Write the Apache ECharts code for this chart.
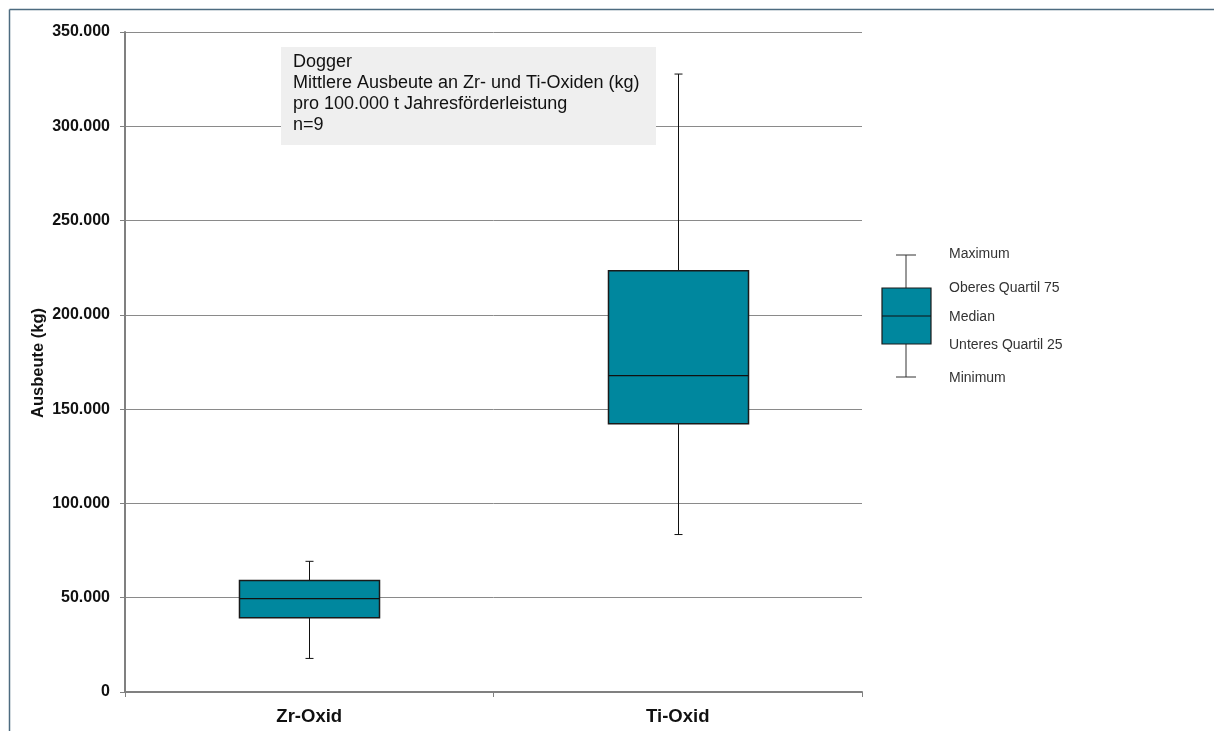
<!DOCTYPE html>
<html>
<head>
<meta charset="utf-8">
<script src="https://cdn.jsdelivr.net/npm/echarts@6/dist/echarts.min.js"></script>
<style>
html,body{margin:0;padding:0;background:#fff;}
#chart{width:1214px;height:731px;}
</style>
</head>
<body>
<div id="chart"></div>
<script>
var categories = ['Zr-Oxid', 'Ti-Oxid'];
var minimum = [17800, 83500];
var quartil25 = [39400, 142300];
var median = [49500, 167800];
var quartil75 = [59100, 223400];
var maximum = [69300, 327700];
var yTicks = [0, 50000, 100000, 150000, 200000, 250000, 300000, 350000];
var annotationLines = ['Dogger', 'Mittlere Ausbeute an Zr- und Ti-Oxiden (kg)', 'pro 100.000 t Jahresförderleistung', 'n=9'];
var legendLabels = ['Maximum', 'Oberes Quartil 75', 'Median', 'Unteres Quartil 25', 'Minimum'];

var boxData = categories.map(function (c, i) {
  return [i, minimum[i], quartil25[i], median[i], quartil75[i], maximum[i]];
});

function fmt(v) {
  return String(v).replace(/\B(?=(\d{3})+(?!\d))/g, '.');
}

var FONT = '"Liberation Sans", Arial, Helvetica, sans-serif';
var BOXCOLOR = '#00879e';

function renderBox(params, api) {
  var idx = api.value(0);
  var pMin = api.coord([idx, api.value(1)]);
  var pQ1 = api.coord([idx, api.value(2)]);
  var pMed = api.coord([idx, api.value(3)]);
  var pQ3 = api.coord([idx, api.value(4)]);
  var pMax = api.coord([idx, api.value(5)]);
  var bw = api.size([1, 0])[0] * 0.38;
  var cx = Math.round(pMed[0]) + 0.5;
  var cap = 4;
  var lineStyle = { stroke: '#111', lineWidth: 1 };
  return {
    type: 'group',
    children: [
      { type: 'line', shape: { x1: cx, y1: pMax[1], x2: cx, y2: pQ3[1] }, style: lineStyle },
      { type: 'line', shape: { x1: cx - cap, y1: pMax[1], x2: cx + cap, y2: pMax[1] }, style: lineStyle },
      { type: 'line', shape: { x1: cx, y1: pQ1[1], x2: cx, y2: pMin[1] }, style: lineStyle },
      { type: 'line', shape: { x1: cx - cap, y1: pMin[1], x2: cx + cap, y2: pMin[1] }, style: lineStyle },
      { type: 'rect', shape: { x: cx - bw / 2, y: pQ3[1], width: bw, height: pQ1[1] - pQ3[1] },
        style: { fill: BOXCOLOR, stroke: '#1a1a1a', lineWidth: 1.5 } },
      { type: 'line', shape: { x1: cx - bw / 2, y1: pMed[1], x2: cx + bw / 2, y2: pMed[1] },
        style: { stroke: '#111', lineWidth: 1.2 } }
    ]
  };
}

// legend glyph (pixel layout only, not data)
var lgX = 906, lgCap = 10;
var lgY = [255, 287, 316, 344, 377];
var legendGraphics = [
  { type: 'line', shape: { x1: lgX, y1: lgY[0], x2: lgX, y2: lgY[4] }, style: { stroke: '#333', lineWidth: 1 } },
  { type: 'line', shape: { x1: lgX - lgCap, y1: lgY[0], x2: lgX + lgCap, y2: lgY[0] }, style: { stroke: '#333', lineWidth: 1 } },
  { type: 'line', shape: { x1: lgX - lgCap, y1: lgY[4], x2: lgX + lgCap, y2: lgY[4] }, style: { stroke: '#333', lineWidth: 1 } },
  { type: 'rect', shape: { x: 882, y: 288, width: 49, height: 56 }, style: { fill: BOXCOLOR, stroke: '#1a1a1a', lineWidth: 1.2 } },
  { type: 'line', shape: { x1: 882, y1: 316, x2: 931, y2: 316 }, style: { stroke: '#111', lineWidth: 1.2 } }
];
var legendTextY = [254, 288, 317, 345, 378];
legendLabels.forEach(function (t, i) {
  legendGraphics.push({
    type: 'text', x: 949, y: legendTextY[i],
    style: { text: t, fill: '#333', fontSize: 14, fontFamily: FONT, verticalAlign: 'middle' }
  });
});

var chart = echarts.init(document.getElementById('chart'), null, { renderer: 'canvas' });
chart.setOption({
  animation: false,
  backgroundColor: '#ffffff',
  grid: { left: 125, right: 352, top: 32, bottom: 39, containLabel: false },
  xAxis: {
    type: 'category',
    data: categories,
    boundaryGap: true,
    axisLine: { lineStyle: { color: '#808080', width: 2 } },
    axisTick: { show: true, length: 5, lineStyle: { color: '#808080', width: 1 } },
    axisLabel: { color: '#111', fontWeight: 'bold', fontSize: 18.5, fontFamily: FONT, margin: 15 },
    splitLine: { show: false }
  },
  yAxis: {
    type: 'value',
    min: 0, max: 350000, interval: 50000,
    axisLine: { show: true, lineStyle: { color: '#808080', width: 2 } },
    axisTick: { show: true, length: 5, lineStyle: { color: '#808080', width: 1 } },
    axisLabel: { color: '#111', fontWeight: 'bold', fontSize: 16, fontFamily: FONT, margin: 15,
      formatter: function (v) { return fmt(v); } },
    splitLine: { show: true, lineStyle: { color: '#8a8a8a', width: 1 } }
  },
  series: [{
    type: 'custom',
    renderItem: renderBox,
    data: boxData,
    encode: { x: 0, y: [1, 2, 3, 4, 5] },
    z: 5
  }],
  graphic: [
    { type: 'line', shape: { x1: 9.5, y1: 9.5, x2: 1214, y2: 9.5 }, style: { stroke: '#4d6b80', lineWidth: 1.5 } },
    { type: 'line', shape: { x1: 9.5, y1: 9.5, x2: 9.5, y2: 731 }, style: { stroke: '#4d6b80', lineWidth: 1.5 } },
    { type: 'text', x: 38, y: 363, rotation: Math.PI / 2,
      style: { text: 'Ausbeute (kg)', fill: '#111', fontWeight: 'bold', fontSize: 16.5, fontFamily: FONT,
        align: 'center', verticalAlign: 'middle' } },
    { type: 'rect', shape: { x: 281, y: 47, width: 375, height: 98 }, style: { fill: '#efefef' }, z: 10 },
    { type: 'text', x: 293, y: 52, z: 11,
      style: { text: annotationLines.join('\n'), fill: '#111', fontSize: 18, fontFamily: FONT, lineHeight: 21 } }
  ].concat(legendGraphics)
});
</script>
</body>
</html>
